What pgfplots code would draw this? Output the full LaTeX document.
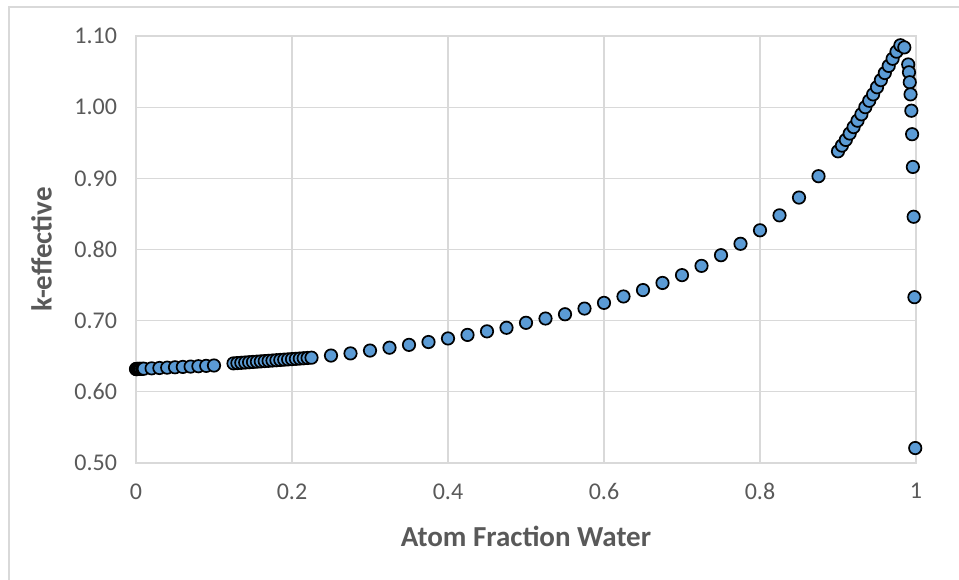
\documentclass[border=0pt]{standalone}
\usepackage{fontspec}
\setmainfont{Carlito}
\usepackage{pgfplots}
\usepackage{pgfplotstable}
\pgfplotsset{compat=1.18}
\definecolor{gridgray}{HTML}{D9D9D9}
\definecolor{txtgray}{HTML}{595959}
\definecolor{dotblue}{HTML}{5B9BD5}

\pgfplotstableread{
x      k
0      0.6320
0.0005 0.6320
0.001  0.6321
0.0015 0.6321
0.002  0.6321
0.003  0.6322
0.004  0.6322
0.005  0.6323
0.006  0.6323
0.008  0.6324
0.01   0.6325
0.02   0.6330
0.03   0.6335
0.04   0.6340
0.05   0.6345
0.06   0.6350
0.07   0.6355
0.08   0.6360
0.09   0.6365
0.10   0.6370
0.125  0.6400
0.130  0.6404
0.135  0.6408
0.140  0.6412
0.145  0.6416
0.150  0.6420
0.155  0.6424
0.160  0.6428
0.165  0.6432
0.170  0.6436
0.175  0.6440
0.180  0.6444
0.185  0.6448
0.190  0.6452
0.195  0.6456
0.200  0.6460
0.205  0.6464
0.210  0.6468
0.215  0.6472
0.220  0.6476
0.225  0.6480
0.25   0.651
0.275  0.654
0.30   0.658
0.325  0.662
0.35   0.666
0.375  0.670
0.40   0.675
0.425  0.680
0.45   0.685
0.475  0.690
0.50   0.697
0.525  0.703
0.55   0.709
0.575  0.717
0.60   0.725
0.625  0.734
0.65   0.743
0.675  0.753
0.70   0.764
0.725  0.777
0.75   0.792
0.775  0.808
0.80   0.827
0.825  0.848
0.85   0.873
0.875  0.903
0.900  0.938
0.905  0.946
0.910  0.954
0.915  0.963
0.920  0.972
0.925  0.981
0.930  0.990
0.935  1.000
0.940  1.009
0.945  1.018
0.950  1.028
0.955  1.038
0.960  1.048
0.965  1.058
0.970  1.068
0.975  1.078
0.980  1.087
0.985  1.084
0.990  1.060
0.991  1.049
0.992  1.035
0.993  1.018
0.994  0.995
0.995  0.962
0.996  0.916
0.997  0.846
0.998  0.733
0.999  0.521
}\keff

\begin{document}
\begin{tikzpicture}
\useasboundingbox (0,0) rectangle (959bp,580bp);
% chart area border (only left and top are inside the picture)
\draw[gridgray, line width=1.3bp] (9bp,0) -- (9bp,573bp) -- (959bp,573bp);
\begin{axis}[
    at={(136bp,117bp)}, anchor=south west,
    scale only axis, width=780bp, height=427bp,
    xmin=0, xmax=1, ymin=0.5, ymax=1.1,
    xtick={0,0.2,0.4,0.6,0.8,1},
    xticklabels={0,0.2,0.4,0.6,0.8,1},
    ytick={0.5,0.6,0.7,0.8,0.9,1.0,1.1},
    yticklabels={0.50,0.60,0.70,0.80,0.90,1.00,1.10},
    major tick length=0pt,
    grid=major,
    major grid style={gridgray, line width=1.3bp},
    axis line style={gridgray, line width=1.3bp},
    tick label style={font=\fontsize{24bp}{28bp}\selectfont, text=txtgray},
    xticklabel shift=17bp,
    yticklabel shift=15.5bp,
    every axis x label/.style={at={(axis description cs:0.5,-0.1956)}, anchor=base},
    every axis y label/.style={at={(axis description cs:-0.1081,0.5)}, rotate=90, anchor=base},
    label style={font=\fontsize{29bp}{34bp}\selectfont\bfseries, text=txtgray},
    xlabel={Atom Fraction Water},
    ylabel={k-effective},
    clip=false,
]
\addplot[only marks, mark=*, mark size=6.2bp,
    mark options={fill=dotblue, draw=black, line width=1.7bp}]
    table[x=x, y=k] {\keff};
\end{axis}
\end{tikzpicture}
\end{document}
